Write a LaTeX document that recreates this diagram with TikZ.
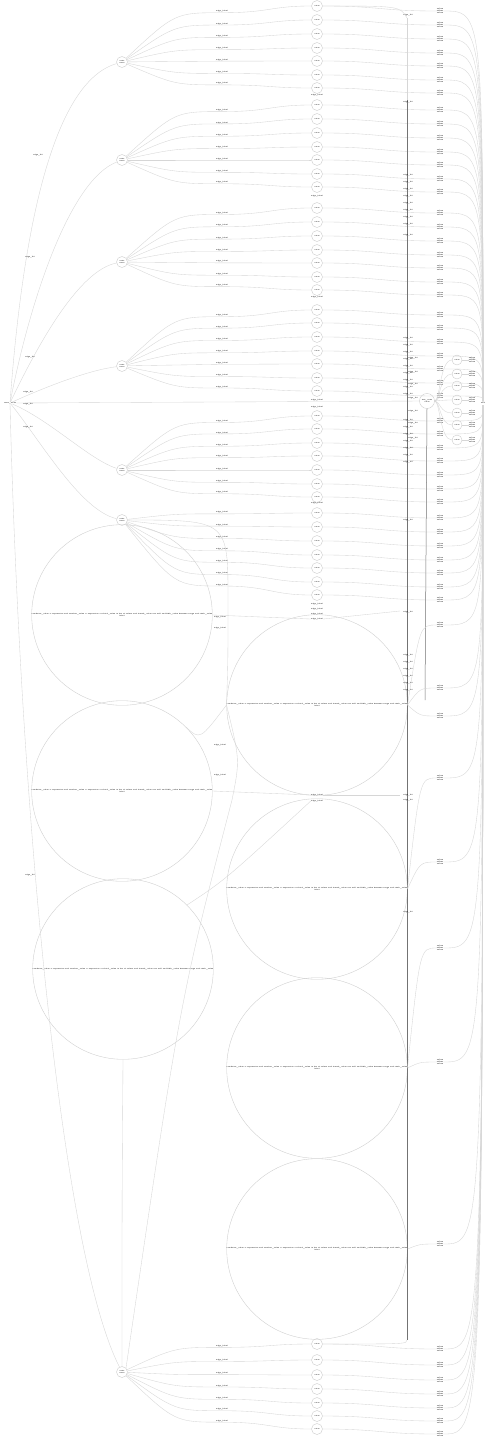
\documentclass[tikz,border=0pt]{standalone}
\begin{document}
\begin{tikzpicture}[x=1pt,y=-1pt,
  edge/.style={draw=black!16, line width=0.35pt},
  dedge/.style={draw=black!55, line width=0.5pt},
  sm/.style={circle, draw=black!22, line width=0.35pt, minimum size=11pt, inner sep=0pt, font=\fontsize{1.5}{1.8}\selectfont\bfseries, align=center},
  big/.style={circle, draw=black!20, line width=0.35pt, minimum size=176pt, inner sep=0pt, font=\fontsize{1.6}{1.9}\selectfont\bfseries, align=center},
  lbl/.style={font=\fontsize{1.6}{1.9}\selectfont\bfseries, inner sep=0.2pt, text=black},
  blk/.style={font=\fontsize{1.8}{2.1}\selectfont\bfseries, align=center, inner sep=0pt, text=black}]
\useasboundingbox (0,0) rectangle (488,1440);
\fill[white] (0,0) rectangle (488,1440);

% root, hub and sink
\node[lbl] (R) at (10,403) {start\_node};
\node[sm, minimum size=15pt] (H) at (427,401) {hub\_node\\value};
\node[lbl] (F) at (483,403) {end};
\coordinate (FN) at (483,401);
\coordinate (FS) at (483,405);

% level-1 nodes
\foreach \n/\y in {1/62,2/160,3/262,4/366,5/470,6/520,7/1372}
  \node[sm] (A\n) at (122,\y) {node\\name};

% big circles
\def\longtxt{condition\_value = expression and another\_value = expression or third\_value in list of values and fourth\_value not null and fifth\_value between range and sixth\_value}
\node[big] (B1) at (122,615) {\longtxt\\label};
\node[big, minimum size=178pt] (B2) at (122,791) {\longtxt\\label};
\node[big, minimum size=174pt] (B3) at (123,969) {\longtxt};
\node[big] (C1) at (317,705) {\longtxt\\label};
\node[big] (C2) at (317,889) {\longtxt\\label};
\node[big] (C3) at (317,1068) {\longtxt\\label};
\node[big] (C4) at (317,1249) {\longtxt\\label};

% root edges
\draw[edge] (R) .. controls (25,200) and (60,80) .. (A1);
\draw[edge] (R) .. controls (30,300) and (70,180) .. (A2);
\draw[edge] (R) .. controls (40,340) and (80,270) .. (A3);
\draw[edge] (R) .. controls (50,385) and (90,370) .. (A4);
\draw[edge] (R) -- (H);
\draw[edge] (R) .. controls (50,420) and (90,460) .. (A5);
\draw[edge] (R) .. controls (40,440) and (80,510) .. (A6);
\draw[edge] (R) .. controls (20,800) and (60,1250) .. (A7);
\foreach \x/\y in {38/155,30/257,30/357,28/392,28/404,28/427,30/875}
  \node[lbl] at (\x,\y) {edge\_lbl};

% groups: g / parent y / child ys / above(1) or below(0) the sink
\foreach \g/\py/\ys/\up in {
 1/62/{6,20,34,48,61,75,88}/1,
 2/160/{105,119,133,147,160,174,187}/1,
 3/262/{208,222,236,250,263,277,290}/1,
 4/366/{310,323,337,351,364,378,391}/1,
 5/470/{416,429,443,456,470,484,497}/0,
 6/520/{513,527,541,555,568,582,595}/0,
 7/1372/{1344,1360,1375,1389,1403,1416,1429}/0}{
  \foreach \cy [count=\k] in \ys {
    \pgfmathsetmacro{\ly}{\cy+0.12*(\py-\cy)}
    \pgfmathsetmacro{\lly}{\ly-1.3}
    \pgfmathsetmacro{\by}{\cy+5}
    \node[sm] (N\g\k) at (317,\cy) {value};
    \node[lbl] (E\g\k) at (222,\lly) {edge\_label};
    \coordinate (P\g\k) at (222,\ly);
    \draw[edge] (A\g) .. controls (175,\ly) .. (P\g\k) .. controls (270,\ly) and (270,\cy) .. (N\g\k.west);
    \node[blk] (K\g\k) at (440,\by) {value\\other\\value};
    \draw[edge] (N\g\k.east) .. controls (380,\cy) and (380,\by) .. (K\g\k.west);
    \ifnum\up=1
      \draw[edge] (K\g\k.east) .. controls (483,\by) .. (FN);
    \else
      \draw[edge] (K\g\k.east) .. controls (483,\by) .. (FS);
    \fi
  }
}

% extra edge labels in the child column
\foreach \y in {95,196,297,400,407,503,604,609,614}
  \node[lbl] at (317,\y) {edge\_label};

% column of edge labels on the bundle to the hub
\coordinate (VT) at (407,18);
\coordinate (VM) at (407,100);
\coordinate (VB) at (407,1340);
\coordinate (VH) at (425,700);
\draw[edge] (VT) -- (VM);
\draw[dedge] (VM) -- (VB);
\draw[dedge] (H.south) -- (VH);
\foreach \y in {15,102,175,182,189,196,203,210,217,224,235,338,345,352,359,366,373,380,387,394,420,427,434,441,448,455,462,520,612,655,662,669,676,683,690,795,800,912}
  \node[lbl] at (408,\y) {edge\_lbl};
\draw[edge] (N11.east) .. controls (400,6) .. (VT);
\draw[edge] (VB) .. controls (407,1344) .. (N71.east);

% nodes next to the hub
\foreach \y [count=\i] in {360,374,386,400,413,425,440}{
  \node[sm, minimum size=10pt] (S\i) at (457,\y) {value};
  \node[lbl] at (413,\y-2) {edge\_lbl};
  \draw[edge] (H.east) .. controls (440,401) and (440,\y) .. (S\i.west);
  \node[blk] (T\i) at (472,\y) {value\\other\\value};
  \draw[edge] (S\i) -- (T\i);
}

% edges around the big circles
\node[lbl] (L1) at (220,617) {edge\_label};
\node[lbl] (L2) at (220,628) {edge\_label};
\node[lbl] (L3) at (220,745) {edge\_label};
\node[lbl] (L4) at (220,775) {edge\_label};
\node[lbl] (L5) at (317,619) {edge\_label};
\node[lbl] (L7) at (317,795) {edge\_label};
\node[lbl] (L8) at (317,801) {edge\_label};
\coordinate (Q1) at (228,600);
\coordinate (Q2) at (232,800);
\coordinate (Q5) at (400,611);
\coordinate (Q7) at (400,795);
\draw[edge] (A6.east) .. controls (228,520) .. (Q1) .. controls (228,660) .. (C1.west);
\draw[edge] (B1.east) -- (L5.west);
\draw[edge] (B2.north east) .. controls (200,740) .. (C1.west);
\draw[edge] (B2.east) -- (L7.west);
\draw[edge] (B3.north east) .. controls (225,880) .. (L8.west);
\draw[edge] (A7.north east) .. controls (180,1000) .. (Q2) .. controls (240,760) .. (C1.west);
\draw[edge] (A7.north) .. controls (122,1200) .. (B3.south);
\draw[edge] (L5.east) -- (Q5);
\draw[edge] (L7.east) -- (Q7);

% lower blocks
\foreach \y/\s in {625/C1,688/C1,716/C1,778/C2,862/C2,948/C3,1062/C3,1244/C4}{
  \node[blk] (D\y) at (440,\y) {value\\other\\value};
  \draw[edge] (\s.east) .. controls (420,\y) .. (D\y.west);
  \draw[edge] (D\y.east) .. controls (483,\y) .. (FS);
}
\end{tikzpicture}
\end{document}
